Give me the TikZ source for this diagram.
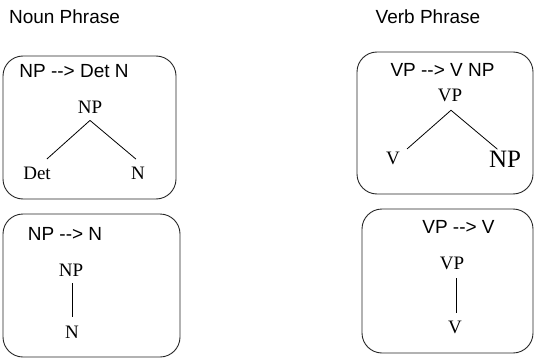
\documentclass[tikz,border=0pt]{standalone}
\usepackage{fontspec}
\setmainfont{Liberation Serif}
\setsansfont{Liberation Sans}[Ligatures=TeXOff]
\usetikzlibrary{calc}
\begin{document}
\begin{tikzpicture}[x=1pt,y=-1pt,
  box/.style={draw=black!85,line width=0.9pt,rounded corners=20pt,inner sep=0pt},
  head/.style={inner sep=0pt,font=\sffamily\fontsize{19}{22}\selectfont},
  lab/.style={inner sep=0pt,font=\rmfamily\fontsize{19}{22}\selectfont},
  biglab/.style={inner sep=0pt,font=\rmfamily\fontsize{25}{28}\selectfont},
  edge/.style={draw=black,line width=0.8pt}]
\useasboundingbox (0,0) rectangle (534,358);
% headings
\node[head] (hn) at (64.5,17) {Noun Phrase};
\node[head] (hv) at (428,17) {Verb Phrase};
% boxes
\node[box,minimum width=173pt,minimum height=143pt] (b1) at (89.5,127.5) {};
\node[box,minimum width=177pt,minimum height=143pt] (b2) at (91.5,285.5) {};
\node[box,minimum width=176pt,minimum height=142pt] (b3) at (445,123) {};
\node[box,minimum width=171pt,minimum height=144pt] (b4) at (447.5,281) {};
% titles
\node[head] (t1) at (74,71.5) {NP -{}-> Det N};
\node[head] (t2) at (65,234) {NP -{}-> N};
\node[head] (t3) at (442.5,69.5) {VP -{}-> V NP};
\node[head] (t4) at (458.5,226.5) {VP -{}-> V};
% tree 1
\node[lab] (np1) at (90,107) {NP};
\node[lab] (det1) at (37,173) {Det};
\node[lab] (n1) at (138,173) {N};
\draw[edge] ($(np1.south)+(0,7)$) -- ($(det1.north east)+(-4,-7.5)$);
\draw[edge] ($(np1.south)+(0,7)$) -- ($(n1.north west)+(5,-7.5)$);
% tree 2
\node[lab] (np2) at (71,270) {NP};
\node[lab] (n2) at (72,332) {N};
\draw[edge] ($(np2.south)+(1,7)$) -- ($(n2.north)+(0,-8.5)$);
% tree 3
\node[lab] (vp3) at (450,95) {VP};
\node[lab] (v3) at (393,158) {V};
\node[biglab] (np3) at (505,159) {NP};
\draw[edge] ($(vp3.south)+(1,8.7)$) -- ($(v3.north east)+(7,-2.5)$);
\draw[edge] ($(vp3.south)+(1,8.7)$) -- ($(np3.north west)+(8.6,-1.4)$);
% tree 4
\node[lab] (vp4) at (452,263) {VP};
\node[lab] (v4) at (455,327) {V};
\draw[edge] ($(vp4.south)+(4,8.7)$) -- ($(v4.north)+(1,-7.7)$);
\end{tikzpicture}
\end{document}
